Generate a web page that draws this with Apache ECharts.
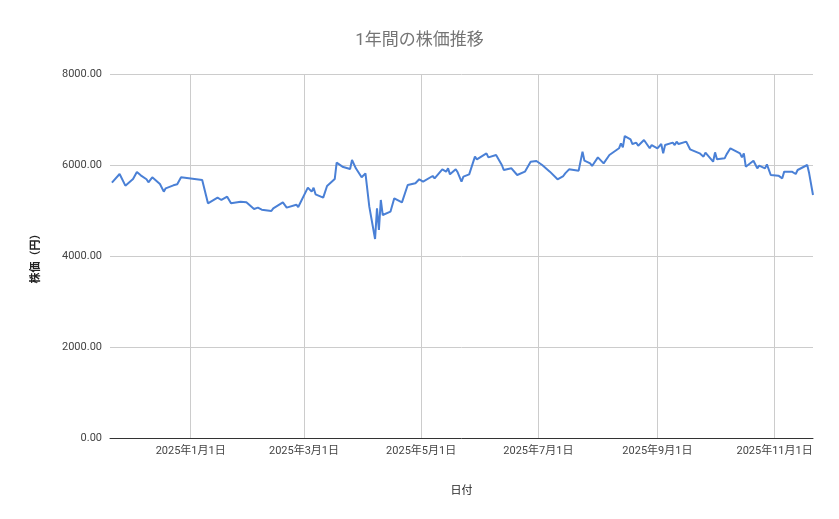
<!DOCTYPE html>
<html><head><meta charset="utf-8">
<script src="https://cdn.jsdelivr.net/npm/echarts@6/dist/echarts.min.js"></script>
<style>html,body{margin:0;padding:0;background:#fff}#c{width:839px;height:519px}</style>
</head><body><div id="c"></div>
<script>
const dates = ['2024-11-21','2024-11-25','2024-11-28','2024-11-29','2024-12-02','2024-12-04','2024-12-06','2024-12-09','2024-12-10','2024-12-12','2024-12-16','2024-12-18','2024-12-19','2024-12-23','2024-12-25','2024-12-27','2025-01-07','2025-01-08','2025-01-10','2025-01-15','2025-01-17','2025-01-20','2025-01-22','2025-01-27','2025-01-30','2025-02-03','2025-02-05','2025-02-07','2025-02-12','2025-02-13','2025-02-14','2025-02-18','2025-02-20','2025-02-25','2025-02-26','2025-03-03','2025-03-05','2025-03-06','2025-03-07','2025-03-11','2025-03-13','2025-03-17','2025-03-18','2025-03-21','2025-03-25','2025-03-26','2025-03-28','2025-03-31','2025-04-02','2025-04-04','2025-04-07','2025-04-08','2025-04-09','2025-04-10','2025-04-11','2025-04-15','2025-04-17','2025-04-21','2025-04-24','2025-04-28','2025-04-30','2025-05-02','2025-05-07','2025-05-08','2025-05-12','2025-05-14','2025-05-15','2025-05-16','2025-05-19','2025-05-20','2025-05-22','2025-05-23','2025-05-26','2025-05-29','2025-05-30','2025-06-04','2025-06-05','2025-06-09','2025-06-12','2025-06-13','2025-06-17','2025-06-20','2025-06-24','2025-06-27','2025-06-30','2025-07-03','2025-07-07','2025-07-11','2025-07-14','2025-07-15','2025-07-17','2025-07-18','2025-07-22','2025-07-24','2025-07-25','2025-07-28','2025-07-29','2025-08-01','2025-08-04','2025-08-07','2025-08-12','2025-08-13','2025-08-14','2025-08-15','2025-08-18','2025-08-19','2025-08-21','2025-08-22','2025-08-25','2025-08-26','2025-08-28','2025-08-29','2025-09-01','2025-09-02','2025-09-03','2025-09-04','2025-09-05','2025-09-09','2025-09-10','2025-09-11','2025-09-12','2025-09-16','2025-09-18','2025-09-23','2025-09-25','2025-09-26','2025-09-30','2025-10-01','2025-10-02','2025-10-06','2025-10-07','2025-10-08','2025-10-09','2025-10-10','2025-10-14','2025-10-15','2025-10-16','2025-10-17','2025-10-21','2025-10-23','2025-10-24','2025-10-27','2025-10-28','2025-10-30','2025-11-03','2025-11-05','2025-11-06','2025-11-10','2025-11-11','2025-11-12','2025-11-13','2025-11-18','2025-11-19','2025-11-20','2025-11-21'];
const prices = [5612,5802,5546,5575,5692,5846,5773,5686,5620,5730,5583,5414,5487,5553,5575,5730,5671,5700,5158,5282,5231,5304,5158,5194,5180,5033,5063,5019,4989,5048,5026,5180,5063,5128,5077,5502,5414,5502,5355,5282,5539,5692,6051,5963,5912,6110,5927,5730,5817,5085,4374,5048,4572,5231,4901,4974,5268,5180,5561,5598,5686,5634,5758,5707,5905,5854,5927,5795,5905,5839,5634,5744,5795,6183,6124,6256,6168,6220,6000,5890,5927,5780,5854,6073,6088,6000,5854,5686,5758,5817,5905,5876,5876,6293,6095,6036,5978,6168,6036,6220,6367,6476,6388,6637,6564,6461,6491,6424,6550,6535,6367,6439,6367,6367,6461,6256,6439,6491,6439,6513,6461,6513,6345,6256,6183,6271,6073,6278,6124,6146,6234,6197,6367,6381,6256,6168,6256,5963,6095,5927,5985,5927,6014,5780,5766,5707,5854,5854,5876,5802,5890,6000,5817,5802,5341];
const xTicks = ['2025-01-01','2025-03-01','2025-05-01','2025-07-01','2025-09-01','2025-11-01'];
const yTicks = [0,2000,4000,6000,8000];
const title = '1年間の株価推移';
const xName = '日付', yName = '株価（円）';

const ts = s => new Date(s + 'T00:00:00').getTime();
const fmt = v => {const d=new Date(v);return d.getFullYear()+'年'+(d.getMonth()+1)+'月'+d.getDate()+'日';};
const chart = echarts.init(document.getElementById('c'));
chart.setOption({
  animation:false,
  textStyle:{fontFamily:'Roboto, "Noto Sans CJK JP", sans-serif'},
  title:{text:title,left:'center',top:27,textStyle:{color:'#757575',fontSize:17,fontWeight:'normal'}},
  grid:{left:110,right:26,top:74,bottom:81},
  xAxis:{type:'value',min:ts('2024-11-20'),max:ts('2025-11-21'),
    axisLine:{onZero:false,lineStyle:{color:'#333'}},axisTick:{show:false},splitLine:{show:false},
    axisLabel:{show:false},
    name:xName,nameLocation:'middle',nameGap:48,nameTextStyle:{color:'#222',fontSize:11}},
  yAxis:{type:'value',min:yTicks[0],max:yTicks[yTicks.length-1],interval:2000,
    axisLine:{show:false},axisTick:{show:false},
    splitLine:{lineStyle:{color:'#ccc'}},
    axisLabel:{color:'#444',fontSize:11,formatter:v=>v.toFixed(2)},
    name:yName,nameLocation:'middle',nameGap:68,nameTextStyle:{color:'#222',fontSize:11,fontWeight:'bold'}},
  series:[{type:'line',showSymbol:false,z:3,data:dates.map((d,i)=>[ts(d),prices[i]]),
    lineStyle:{color:'#4a80d6',width:2},itemStyle:{color:'#4a80d6'},
    markLine:{silent:true,symbol:'none',z:1,
      label:{show:true,position:'start',distance:8,color:'#444',fontSize:11,formatter:p=>fmt(p.value)},
      lineStyle:{color:'#ccc',type:'solid',width:1},
      data:xTicks.map(d=>({xAxis:ts(d)}))}}]
});
</script></body></html>
